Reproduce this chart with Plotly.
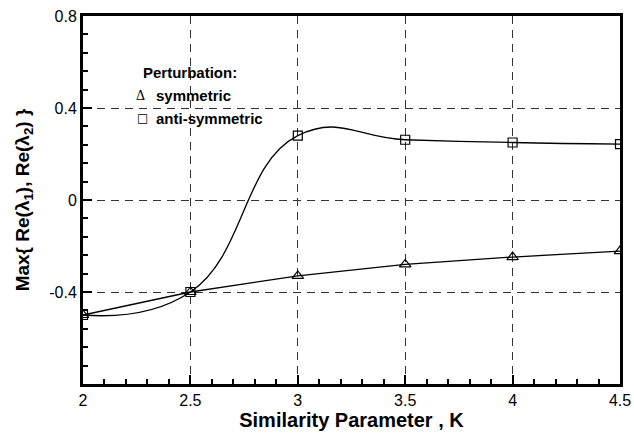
import plotly.graph_objects as go

K = [2.0, 2.5, 3.0, 3.5, 4.0, 4.5]
symmetric = [-0.50, -0.40, -0.33, -0.28, -0.248, -0.222]
anti_symmetric = [-0.50, -0.40, 0.28, 0.262, 0.25, 0.243]

x_ticks = [2, 2.5, 3, 3.5, 4, 4.5]
y_ticks = [-0.4, 0, 0.4, 0.8]
y_ticktext = ["-0.4", "0", "0.4", "0.8"]

FONT = "Liberation Sans, Arial, sans-serif"

W, H = 634, 433
L, R, T, B = 83, 14, 16, 49
PW, PH = W - L - R, H - T - B

fig = go.Figure()
fig.add_trace(go.Scatter(
    x=K, y=anti_symmetric, mode="lines+markers",
    line=dict(color="black", width=1.3, shape="spline", smoothing=1.3),
    marker=dict(symbol="square-open", size=9, color="black", line=dict(width=1.2)),
    showlegend=False,
))
fig.add_trace(go.Scatter(
    x=K, y=symmetric, mode="lines+markers",
    line=dict(color="black", width=1.3),
    marker=dict(symbol="triangle-up-open", size=10, color="black", line=dict(width=1.2)),
    showlegend=False,
))

axis_common = dict(
    showline=True, linecolor="black", linewidth=3, mirror=True,
    ticks="inside", ticklen=9, tickwidth=1.5, tickcolor="black",
    showgrid=True, gridcolor="#333333", gridwidth=1, griddash="8px,6px",
    zeroline=False, automargin=False,
    tickfont=dict(family=FONT, size=16, color="black"),
)

fig.update_xaxes(
    range=[2, 4.5], tickvals=x_ticks,
    minor=dict(dtick=0.1, tick0=2, ticks="inside", ticklen=5, tickcolor="black", showgrid=False),
    title=dict(text="<b>Similarity Parameter , K</b>", font=dict(family=FONT, size=20, color="black"), standoff=5),
    **axis_common,
)
fig.update_yaxes(
    range=[-0.8, 0.8], tickvals=y_ticks, ticktext=y_ticktext,
    minor=dict(dtick=0.08, tick0=-0.8, ticks="inside", ticklen=5, tickcolor="black", showgrid=False),
    title=dict(text="<b>Max{ Re(λ<sub>1</sub>), Re(λ<sub>2</sub>) }</b>", font=dict(family=FONT, size=19, color="black"), standoff=15),
    **axis_common,
)

annots = [
    dict(x=142, y=73, text="<b>Perturbation:</b>", font=dict(family=FONT, size=15, color="black")),
    dict(x=135, y=96, text="Δ", font=dict(family="Liberation Serif, serif", size=14, color="black")),
    dict(x=155, y=95, text="<b>symmetric</b>", font=dict(family=FONT, size=15, color="black")),
    dict(x=136, y=118, text="□", font=dict(family="DejaVu Sans, sans-serif", size=12, color="black")),
    dict(x=155, y=118, text="<b>anti-symmetric</b>", font=dict(family=FONT, size=15, color="black")),
]
for a in annots:
    fig.add_annotation(
        x=(a["x"] - L) / PW, y=(H - B - a["y"]) / PH, xref="paper", yref="paper",
        xanchor="left", yanchor="middle", text=a["text"], font=a["font"], showarrow=False,
        borderpad=0,
    )

fig.update_layout(
    width=W, height=H,
    margin=dict(l=L, r=R, t=T, b=B, autoexpand=False),
    plot_bgcolor="white", paper_bgcolor="white",
)
fig.write_html("out.html")
